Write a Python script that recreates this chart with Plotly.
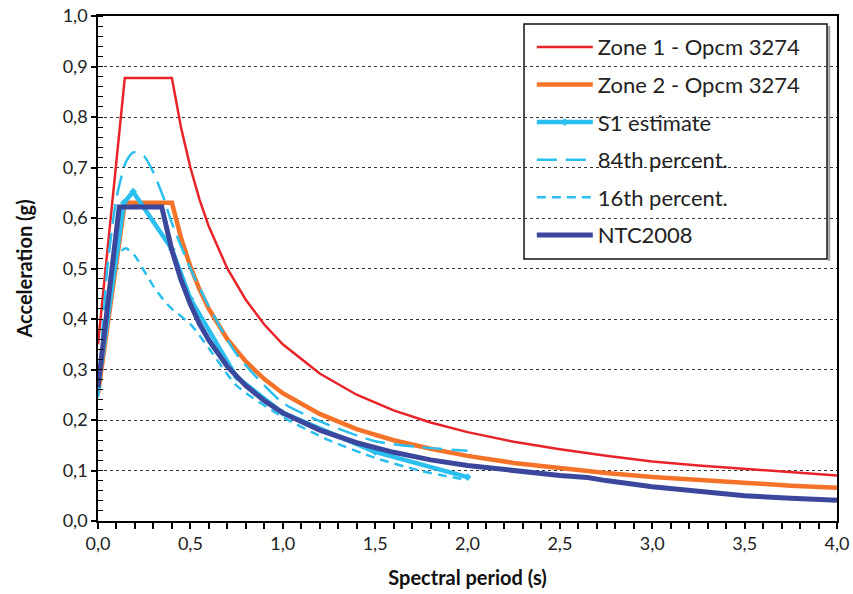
import plotly.graph_objects as go

# ---- data ----
zone_T = [0, 0.145, 0.4, 0.45, 0.5, 0.55, 0.6, 0.7, 0.8, 0.9, 1.0, 1.2, 1.4, 1.6, 1.8, 2.0,
          2.25, 2.5, 2.75, 3.0, 3.25, 3.5, 3.75, 4.0]
zone1 = [0.35, 0.877, 0.877, 0.778, 0.70, 0.636, 0.583, 0.50, 0.438, 0.389, 0.35, 0.292,
         0.25, 0.219, 0.195, 0.176, 0.157, 0.142, 0.129, 0.118, 0.110, 0.103, 0.096, 0.090]
zone2 = [0.252, 0.63, 0.63, 0.56, 0.504, 0.458, 0.42, 0.36, 0.316, 0.281, 0.253, 0.212,
         0.182, 0.160, 0.143, 0.129, 0.115, 0.104, 0.095, 0.087, 0.081, 0.075, 0.070, 0.066]

s1_T = [0, 0.1, 0.14, 0.19, 0.4, 0.5, 0.75, 1.0, 1.5, 2.0]
s1 = [0.265, 0.535, 0.63, 0.652, 0.538, 0.44, 0.285, 0.214, 0.137, 0.087]

p84_T = [0, 0.05, 0.1, 0.15, 0.19, 0.25, 0.3, 0.35, 0.4, 0.5, 0.6, 0.75, 1.0, 1.25, 1.5, 1.75, 2.0]
p84 = [0.245, 0.50, 0.64, 0.71, 0.73, 0.722, 0.69, 0.645, 0.59, 0.50, 0.425, 0.33, 0.234,
       0.19, 0.158, 0.146, 0.139]

p16_T = [0, 0.05, 0.1, 0.15, 0.2, 0.25, 0.3, 0.35, 0.4, 0.5, 0.6, 0.75, 1.0, 1.25, 1.5, 1.75, 2.0]
p16 = [0.245, 0.42, 0.525, 0.54, 0.525, 0.495, 0.465, 0.44, 0.42, 0.39, 0.342, 0.268, 0.206,
       0.160, 0.125, 0.099, 0.081]

ntc_T = [0, 0.115, 0.345, 0.4, 0.45, 0.5, 0.55, 0.6, 0.7, 0.8, 0.9, 1.0, 1.2, 1.4, 1.6, 1.8,
         2.0, 2.25, 2.5, 2.65, 2.75, 3.0, 3.25, 3.5, 3.75, 4.0]
ntc = [0.265, 0.622, 0.622, 0.536, 0.477, 0.429, 0.39, 0.358, 0.306, 0.268, 0.238, 0.214,
       0.180, 0.155, 0.136, 0.121, 0.110, 0.099, 0.090, 0.086, 0.080, 0.068, 0.058, 0.050,
       0.045, 0.041]

x_ticks = [0, 0.5, 1.0, 1.5, 2.0, 2.5, 3.0, 3.5, 4.0]
y_ticks = [0, 0.1, 0.2, 0.3, 0.4, 0.5, 0.6, 0.7, 0.8, 0.9, 1.0]

RED = "#E8242A"
ORANGE = "#F47328"
LBLUE = "#2BBFEF"
DBLUE = "#3A479C"

fig = go.Figure()
fig.add_trace(go.Scatter(x=zone_T, y=zone1, mode="lines", name="Zone 1 - Opcm 3274",
                         line=dict(color=RED, width=2.5), legendgroup="a"))
fig.add_trace(go.Scatter(x=zone_T, y=zone2, mode="lines", name="Zone 2 - Opcm 3274",
                         line=dict(color=ORANGE, width=4.5), legendgroup="b"))
fig.add_trace(go.Scatter(x=s1_T, y=s1, mode="lines+markers", name="S1 estimate",
                         line=dict(color=LBLUE, width=4.5),
                         marker=dict(symbol="diamond", size=6, color=LBLUE), legendgroup="c"))
fig.add_trace(go.Scatter(x=p84_T, y=p84, mode="lines", name="84th percent.",
                         line=dict(color=LBLUE, width=2.5, dash="20px,9px", shape="spline",
                                   smoothing=0.6), legendgroup="d"))
fig.add_trace(go.Scatter(x=p16_T, y=p16, mode="lines", name="16th percent.",
                         line=dict(color=LBLUE, width=2.5, dash="9px,6px", shape="spline",
                                   smoothing=0.6), legendgroup="e"))
fig.add_trace(go.Scatter(x=ntc_T, y=ntc, mode="lines", name="NTC2008",
                         line=dict(color=DBLUE, width=5), legendgroup="f"))

axis_font = dict(family="Lato, 'Open Sans', sans-serif", size=18, color="#222")
title_font = dict(family="Lato, sans-serif", size=20, color="#111")

# legend frame (box with a light shadow on the right)
fig.add_shape(type="rect", xref="paper", yref="paper",
              x0=0.5765, x1=0.9865, y0=0.519, y1=0.984, layer="between",
              fillcolor="white", line=dict(color="#111", width=1.5))
fig.add_shape(type="line", xref="paper", yref="paper",
              x0=0.9895, x1=0.9895, y0=0.515, y1=0.98, layer="between",
              line=dict(color="#999", width=2))

fig.update_layout(
    width=853, height=594,
    margin=dict(l=98, r=16, t=16, b=73, autoexpand=False),
    paper_bgcolor="white", plot_bgcolor="white",
    separators=", ",
    showlegend=True,
    legend=dict(x=0.587, y=0.980, xanchor="left", yanchor="top",
                bgcolor="rgba(0,0,0,0)", borderwidth=0,
                font=dict(family="Lato, 'Open Sans', sans-serif", size=22, color="#222"),
                itemwidth=56, tracegroupgap=6, traceorder="grouped"),
    xaxis=dict(range=[0, 4.0], tickvals=x_ticks, tickformat=".1f", automargin=False,
               showgrid=False, zeroline=False,
               showline=True, linecolor="black", linewidth=1.5, mirror=True,
               ticks="outside", ticklen=6, tickcolor="black", tickwidth=1.5,
               minor=dict(dtick=0.1, ticks="outside", ticklen=6, tickcolor="black", tickwidth=1.5),
               tickfont=axis_font,
               title=dict(text="<b>Spectral period (s)</b>", font=title_font, standoff=18)),
    yaxis=dict(range=[0, 1.0], tickvals=y_ticks, tickformat=".1f", automargin=False,
               showgrid=True, gridcolor="#333", gridwidth=1, griddash="3px,3px",
               zeroline=False,
               showline=True, linecolor="black", linewidth=1.5, mirror=True,
               ticks="outside", ticklen=5, tickcolor="black", tickwidth=1.5,
               minor=dict(dtick=0.02, ticks="inside", ticklen=5, tickcolor="black",
                          tickwidth=1, showgrid=False),
               tickfont=axis_font,
               title=dict(text="<b>Acceleration (g)</b>", font=title_font, standoff=25)),
)

fig.write_html("out.html")
